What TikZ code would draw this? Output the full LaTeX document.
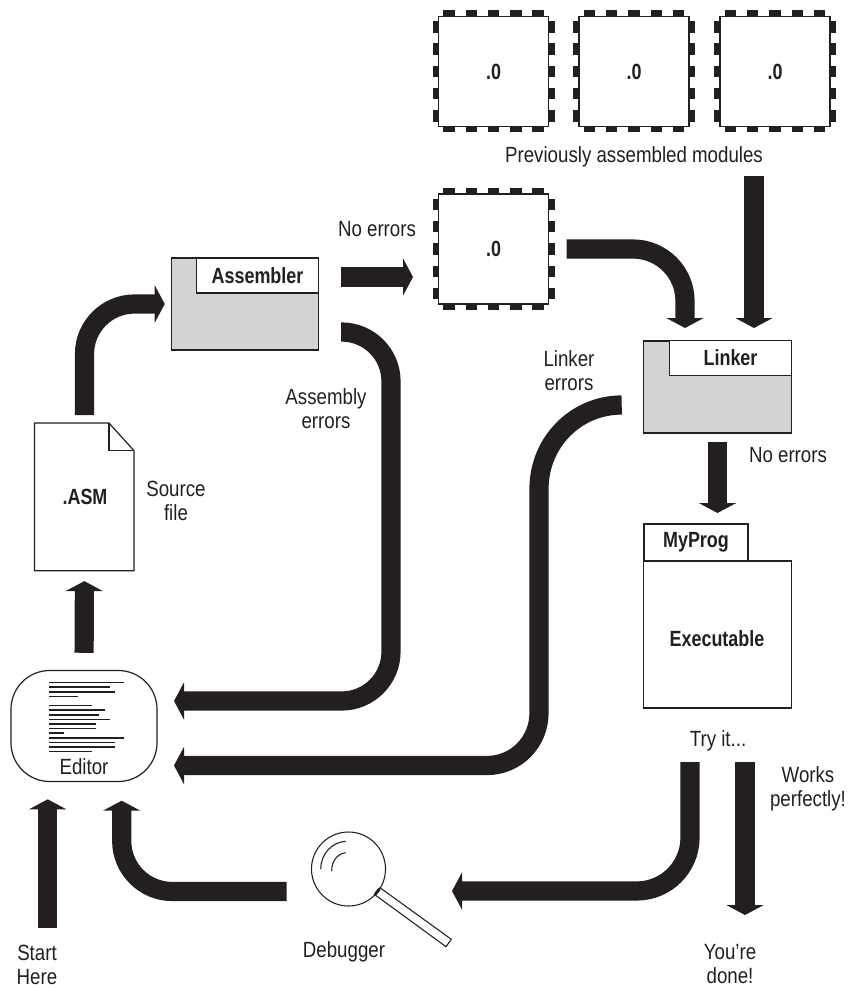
\documentclass[tikz,border=0pt]{standalone}
\usepackage{fontspec}
\setmainfont[FakeStretch=0.85]{Liberation Sans}
\newfontface\condbold[FakeStretch=0.815]{Liberation Sans Bold}
\usetikzlibrary{arrows.meta}
\definecolor{ink}{HTML}{231F20}
\definecolor{panel}{HTML}{D1D3D4}
\tikzset{
  lbl/.style={font=\fontsize{16.5}{18}\selectfont,text=ink,align=center,inner sep=0pt},
  boldlbl/.style={lbl,font=\fontsize{16.5}{18}\selectfont\condbold},
  box/.style={draw=ink,line width=0.9pt,inner sep=0pt,outer sep=0pt,minimum width=#1},
  box/.default=10pt,
  bigarrow/.style={draw=ink,line width=14.4pt,-{Triangle[length=7.5pt,width=27.75pt]},rounded corners=#1},
  bigarrow/.default=37pt,
  pad/.style={fill=ink,draw=none},
  hairline/.style={draw=ink,line width=0.8pt},
  textline/.style={draw=ink,line width=0.9pt}
}
% \chipbox{name}{cx}{cy}
\newcommand{\chipbox}[3]{%
  \foreach \d in {-44.6,-22.3,0,22.3,44.6}{%
    \fill[pad] (#2+\d-5.7,#3-61) rectangle (#2+\d+5.7,#3-55);
    \fill[pad] (#2+\d-5.7,#3+55) rectangle (#2+\d+5.7,#3+61);
    \fill[pad] (#2-61,#3+\d-5.7) rectangle (#2-55,#3+\d+5.7);
    \fill[pad] (#2+55,#3+\d-5.7) rectangle (#2+61,#3+\d+5.7);
  }%
  \node[box=82.5pt,minimum height=82.5pt,fill=white,boldlbl] (#1) at (#2,#3) {.0};
}
\begin{document}
\begin{tikzpicture}[x=0.75pt,y=-0.75pt]
\useasboundingbox (0,0) rectangle (849,988);

% modules
\chipbox{chipa}{493.5}{71.5}
\chipbox{chipb}{634}{71.5}
\chipbox{chipc}{775}{71.5}
\chipbox{chipm}{493.5}{249}
\node[lbl] (prevlbl) at (634,157) {Previously assembled modules};

% assembler
\node[box=110.6pt,minimum height=69pt,fill=panel] (assembler) at (245,304) {};
\node[box=91.1pt,minimum height=26.25pt,fill=white,boldlbl] (assemblertab) at (257.5,275.5) {Assembler};

% linker
\node[box=110.6pt,minimum height=69pt,fill=panel] (linker) at (717.5,387) {};
\node[box=91.1pt,minimum height=26.25pt,fill=white,boldlbl] (linkertab) at (730.5,358) {Linker};

% executable
\node[box=78pt,minimum height=27.75pt,fill=white,boldlbl] (myprog) at (696,542.5) {MyProg};
\node[box=110.6pt,minimum height=110.25pt,fill=white] (exec) at (717.5,634.5) {};
\node[boldlbl] (execlbl) at (717,639) {Executable};

% source file
\node[minimum width=74.6pt,minimum height=110.8pt,inner sep=0pt,outer sep=0pt] (asm) at (84.5,497) {};
\draw[textline,line join=miter] (34.5,423) -- (109,423) -- (134,450.7) -- (134,570.7) -- (34.5,570.7) -- cycle;
\draw[textline] (109,423) -- (109,450.7) -- (134,450.7);
\node[boldlbl] (asmlbl) at (85,497) {.ASM};
\node[lbl] (srclbl) at (176,501) {Source\\file};

% editor
\node[box=109.5pt,minimum height=83.25pt,rounded corners=29pt] (editor) at (84,726) {};
\foreach \yy/\xx in {682.7/124,687/110,692/115,696.7/78,705.7/92,710/105,715/99,719.7/110,724/96,728.7/96,733/64,738/124,742.7/115,747/115,751.7/92}{
  \draw[textline] (49,\yy) -- (\xx,\yy);
}
\node[lbl] (editorlbl) at (84,767) {Editor};

% debugger
\draw[hairline,fill=white] (380,887.7) -- (451.3,939.3) -- (446,946.7) -- (374.3,894.3) -- cycle;
\node[draw=ink,line width=0.8pt,circle,minimum size=55.5pt,inner sep=0pt,outer sep=0pt] (lens) at (348.5,869) {};
\draw[ink,line width=2.2pt] (379.5,889) -- (375.5,894);
\draw[hairline] (320.7,869) .. controls (320.7,854) and (332,842) .. (345.7,841.3);
\draw[hairline] (331.7,871) .. controls (331.7,861) and (337,854) .. (345.7,852.7);
\node[lbl] (debuglbl) at (344,952) {Debugger};

% free labels
\node[lbl] (noerra) at (377,229) {No errors};
\node[lbl] (noerrb) at (788,455) {No errors};
\node[lbl] (asmerr) at (326,408.5) {Assembly\\errors};
\node[lbl] (linkerr) at (569,371) {Linker\\errors};
\node[lbl] (tryit) at (718,741) {Try it...};
\node[lbl] (works) at (808,789) {Works\\perfectly!};
\node[lbl] (done) at (730,964) {You’re\\done!};
\node[lbl] (start) at (37,965) {Start\\Here};

% connector ends
\coordinate (assemblerout) at (341,277);
\coordinate (chipmin) at (413,277);
\coordinate (chipmout) at (566.7,249);
\coordinate (linkerina) at (685,328);
\coordinate (linkerinb) at (754,328);
\coordinate (prevout) at (754,176);
\coordinate (asmerrout) at (341,332);
\coordinate (asmerrbend) at (391,701);
\coordinate (editorina) at (174,701);
\coordinate (linkerrout) at (621.7,405);
\coordinate (editorinb) at (174,765.5);
\coordinate (linkerdown) at (717.5,513);
\coordinate (tryout) at (690,762);
\coordinate (lensin) at (452,891);
\coordinate (workout) at (745,762);
\coordinate (doneat) at (745,915);
\coordinate (lensout) at (286.7,891.5);
\coordinate (editorinc) at (121.7,800.7);
\coordinate (startout) at (47.7,928);
\coordinate (editorind) at (47.7,799.3);

% connectors
\draw[bigarrow=37.5pt,shorten <=6pt,shorten >=4.9pt] (asm.north) |- (assembler.west);
\draw[bigarrow] (assemblerout) -- (chipmin);
\draw[bigarrow=39pt] (chipmout) -| (linkerina);
\draw[bigarrow] (prevout) -- (linkerinb);
\draw[bigarrow] (asmerrout) -| (asmerrbend) -- (editorina);
\draw[bigarrow,sharp corners] (linkerrout) .. controls (576,405) and (539,442) .. (539,489) -- (539,713) .. controls (539,742) and (516,765.5) .. (487,765.5) -- (editorinb);
\draw[bigarrow,shorten <=6.5pt] (linker.south) -- (linkerdown);
\draw[bigarrow,shorten <=13.3pt,shorten >=7.7pt] (editor.north) -- (asm.south);
\draw[bigarrow=40pt] (tryout) |- (lensin);
\draw[bigarrow] (workout) -- (doneat);
\draw[bigarrow=38pt] (lensout) -| (editorinc);
\draw[bigarrow] (startout) -- (editorind);
\end{tikzpicture}
\end{document}
